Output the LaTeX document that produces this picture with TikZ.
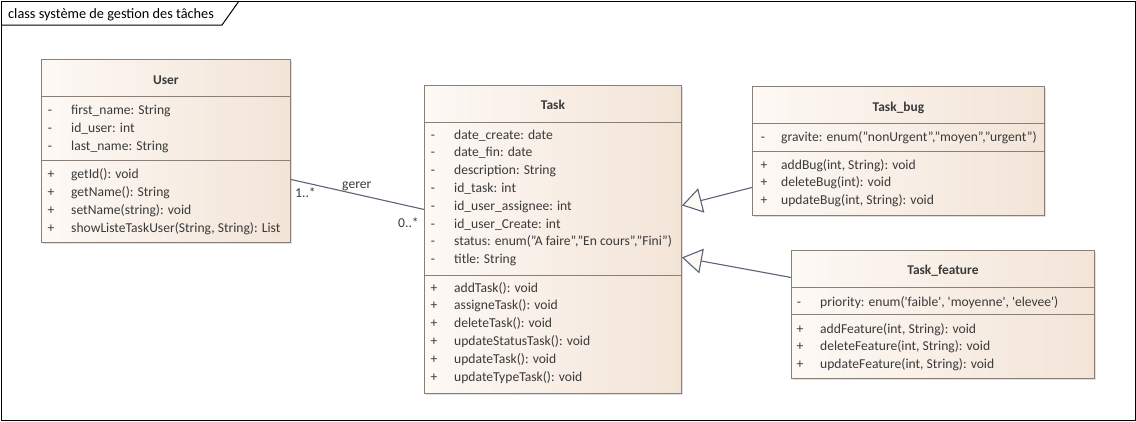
\documentclass[tikz,border=0pt]{standalone}
\usepackage{fontspec}
\setmainfont{Carlito}
\usetikzlibrary{arrows.meta,positioning,calc,shadows}

\definecolor{umlborder}{HTML}{8A8077}
\definecolor{umlleft}{HTML}{FDF9F5}
\definecolor{umlright}{HTML}{F3E4D7}
\definecolor{umlline}{HTML}{5B6377}
\definecolor{umltext}{HTML}{3A3A3A}

\tikzset{
  classbox/.style={draw=umlborder, line width=0.9pt, left color=umlleft, right color=umlright,
    inner sep=0pt, anchor=north west,
    drop shadow={shadow xshift=2pt, shadow yshift=-2pt, fill=black!25}},
  sepline/.style={draw=umlborder, line width=0.9pt},
  row/.style={anchor=base west, inner sep=0pt, text=umltext, font=\fontsize{13.6}{16}\selectfont},
  vis/.style={anchor=base, inner sep=0pt, text=umltext, font=\fontsize{13.6}{16}\selectfont},
  classname/.style={anchor=base, inner sep=0pt, text=umltext, font=\fontsize{13.4}{16}\selectfont\bfseries},
  assoc/.style={draw=umlline, line width=1.1pt},
  inherit/.style={draw=umlline, line width=1.1pt,
    -{Triangle[length=20pt, width=25pt, fill=umlleft, line width=1.1pt]}},
}

\begin{document}
\begin{tikzpicture}[x=1pt, y=-1pt]
\useasboundingbox (0,0) rectangle (1136,421);

% cadre du diagramme
\draw[black, line width=1pt] (1,1) rectangle (1135,420);
\draw[black, line width=1pt] (1,25) -- (222,25) -- (239,1);
\node[anchor=base west, inner sep=0pt, font=\fontsize{14.3}{16}\selectfont] (frametitle) at (8,18.5) {class système de gestion des tâches};

% classe User
\node[classbox, minimum width=249pt, minimum height=183pt] (User) at (41,59) {};
\draw[sepline] (User.west |- 0,96) -- (User.east |- 0,96);
\draw[sepline] (User.west |- 0,160) -- (User.east |- 0,160);
\node[classname] (usertitle) at ($(User.north)+(0,25)$) {User};
\foreach \txt [count=\i] in {first\_name: String, id\_user: int, last\_name: String}{
  \node[vis] (uav\i) at (50,{114+18*(\i-1)}) {-};
  \node[row] (ua\i) at (71,{114+18*(\i-1)}) {\txt};
}
\foreach \txt [count=\i] in {getId(): void, getName(): String, setName(string): void, {showListeTaskUser(String, String): List}}{
  \node[vis] (umv\i) at (51,{178+18*(\i-1)}) {+};
  \node[row] (um\i) at (71,{178+18*(\i-1)}) {\txt};
}

% classe Task
\node[classbox, minimum width=257pt, minimum height=308pt] (Task) at (424,85) {};
\draw[sepline] (Task.west |- 0,122.5) -- (Task.east |- 0,122.5);
\draw[sepline] (Task.west |- 0,275) -- (Task.east |- 0,275);
\node[classname] (tasktitle) at ($(Task.north)+(0,24)$) {Task};
\foreach \txt [count=\i] in {date\_create: date, date\_fin: date, description: String, id\_task: int,
    id\_user\_assignee: int, id\_user\_Create: int, {status: enum("A faire","En cours","Fini")}, title: String}{
  \node[vis] (tav\i) at (433,{139+17.8*(\i-1)}) {-};
  \node[row] (ta\i) at (454,{139+17.8*(\i-1)}) {\txt};
}
\foreach \txt [count=\i] in {addTask(): void, assigneTask(): void, deleteTask(): void,
    updateStatusTask(): void, updateTask(): void, updateTypeTask(): void}{
  \node[vis] (tmv\i) at (434,{292+17.8*(\i-1)}) {+};
  \node[row] (tm\i) at (454,{292+17.8*(\i-1)}) {\txt};
}

% classe Task_bug
\node[classbox, minimum width=292pt, minimum height=129pt] (Taskbug) at (752,86) {};
\draw[sepline] (Taskbug.west |- 0,123) -- (Taskbug.east |- 0,123);
\draw[sepline] (Taskbug.west |- 0,151) -- (Taskbug.east |- 0,151);
\node[classname] (bugtitle) at ($(Taskbug.north)+(0,25)$) {Task\_bug};
\node[vis] (bav1) at (763,141) {-};
\node[row] (ba1) at (781,141) {gravite: enum("nonUrgent","moyen","urgent")};
\foreach \txt [count=\i] in {{addBug(int, String): void}, deleteBug(int): void, {updateBug(int, String): void}}{
  \node[vis] (bmv\i) at (764,{169+17.8*(\i-1)}) {+};
  \node[row] (bm\i) at (781,{169+17.8*(\i-1)}) {\txt};
}

% classe Task_feature
\node[classbox, minimum width=303pt, minimum height=128pt] (Taskfeature) at (791,250) {};
\draw[sepline] (Taskfeature.west |- 0,287) -- (Taskfeature.east |- 0,287);
\draw[sepline] (Taskfeature.west |- 0,314) -- (Taskfeature.east |- 0,314);
\node[classname] (featuretitle) at ($(Taskfeature.north)+(0,24)$) {Task\_feature};
\node[vis] (fav1) at (799,306) {-};
\node[row] (fa1) at (820,306) {priority: enum(\textquotesingle faible\textquotesingle, \textquotesingle moyenne\textquotesingle, \textquotesingle elevee\textquotesingle)};
\foreach \txt [count=\i] in {{addFeature(int, String): void}, {deleteFeature(int, String): void}, {updateFeature(int, String): void}}{
  \node[vis] (fmv\i) at (800,{333+17.8*(\i-1)}) {+};
  \node[row] (fm\i) at (820,{333+17.8*(\i-1)}) {\txt};
}

% association gerer
\draw[assoc] ([yshift=-28.5pt]User.east) -- ([yshift=30pt]Task.west);
\node[row] (gerer) at (342,188) {gerer};
\node[row] (multuser) at (295,197) {1..*};
\node[row] (multtask) at (398,227) {0..*};

% heritage
\draw[inherit] ([yshift=-36.5pt]Taskbug.west) -- ([yshift=34pt]Task.east);
\draw[inherit] ([yshift=37pt]Taskfeature.west) -- ([yshift=-18pt]Task.east);
\end{tikzpicture}
\end{document}
